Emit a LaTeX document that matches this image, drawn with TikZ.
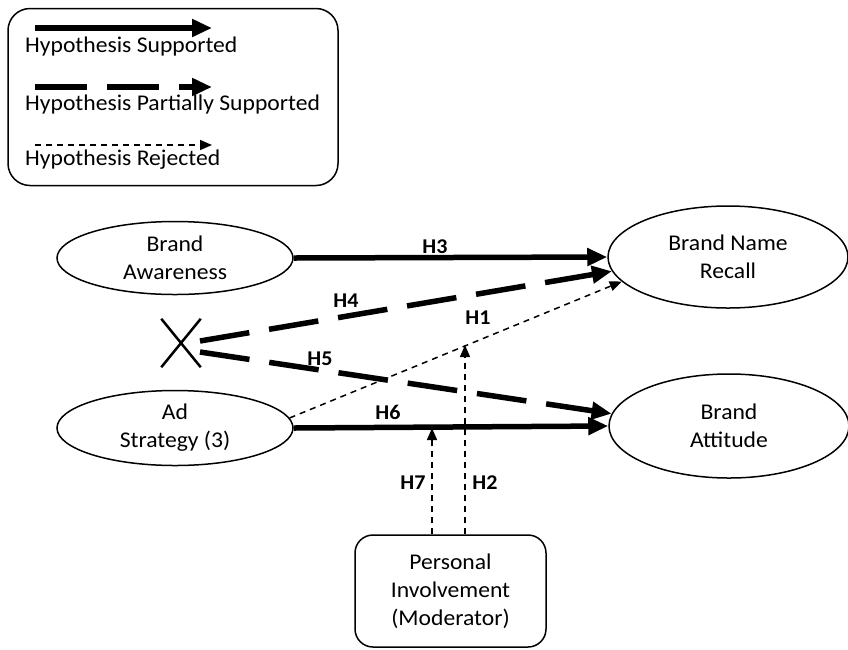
\documentclass[tikz,border=0pt]{standalone}
\usepackage{fontspec}
\setmainfont[FakeStretch=1.05]{Carlito}
\usetikzlibrary{arrows.meta,shapes.geometric,shapes.misc,calc}
\begin{document}
\begin{tikzpicture}[x=1pt,y=-1pt,
  every node/.style={font=\fontsize{22.5}{28}\selectfont},
  oval/.style={ellipse,draw,line width=1.5pt,inner sep=0pt,align=center},
  rbox/.style={rectangle,rounded corners=18pt,draw,line width=1.5pt,inner sep=0pt,align=center},
  supp/.style={line width=5.5pt,-{Triangle[length=20pt,width=17pt]}},
  part/.style={line width=5.5pt,dash pattern=on 50pt off 20pt,-{Triangle[length=20pt,width=17pt]}},
  rej/.style={line width=1.5pt,dash pattern=on 6pt off 5pt,-{Triangle[length=12pt,width=10pt]}},
  lab/.style={font=\fontsize{21}{24}\selectfont\bfseries,inner sep=1pt},
  legtext/.style={anchor=west,inner sep=0pt}
]
\useasboundingbox (0,0) rectangle (848,649);
% legend
\node[rbox,rounded corners=22pt,minimum width=330pt,minimum height=177pt] (leg) at (173,97) {};
\coordinate (l1a) at (35,28);  \coordinate (l1b) at (212,28);
\coordinate (l2a) at (35,87);  \coordinate (l2b) at (212,87);
\coordinate (l3a) at (35,145); \coordinate (l3b) at (212,145);
\draw[supp] (l1a) -- (l1b);
\draw[part,dash pattern=on 52pt off 20pt] (l2a) -- (l2b);
\draw[rej] (l3a) -- (l3b);
\node[legtext] (t1) at (25,46) {Hypothesis Supported};
\node[legtext] (t2) at (25,104) {Hypothesis Partially Supported};
\node[legtext] (t3) at (25,160) {Hypothesis Rejected};
% main nodes
\node[oval,minimum width=236pt,minimum height=73pt] (ba) at (175,258) {Brand\\Awareness};
\node[oval,minimum width=236pt,minimum height=75pt] (as) at (175,428) {Ad\\Strategy (3)};
\node[oval,minimum width=240pt,minimum height=102pt] (bnr) at (728,257) {Brand Name\\Recall};
\node[oval,minimum width=240pt,minimum height=104pt] (bat) at (729,426) {Brand\\Attitude};
\node[rbox,minimum width=191pt,minimum height=112pt] (pim) at (450.5,591) {Personal\\Involvement\\(Moderator)};
\node[cross out,draw,line width=2.5pt,minimum width=37pt,minimum height=46pt,inner sep=0pt] (x) at (181,343) {};
\coordinate (x4) at (200,341);
\coordinate (x5) at (200,352);
\coordinate (h2end) at (465,345);
\coordinate (h7end) at (432,428);
% connectors
\draw[supp] (ba.east) -- (bnr.west);
\draw[supp] (as.east) -- (bat.west);
\draw[part] (x4) -- (bnr.187);
\draw[part] (x5) -- (bat.174);
\draw[rej] (as.5) -- (bnr.193);
\draw[rej] (pim.north -| h7end) -- (h7end);
\draw[rej] (pim.north -| h2end) -- (h2end);
% labels
\node[lab] (h3) at (435,247) {H3};
\node[lab] (h4) at (346,301) {H4};
\node[lab] (h1) at (478,318) {H1};
\node[lab] (h5) at (320,359) {H5};
\node[lab] (h6) at (388,412) {H6};
\node[lab] (h7) at (413,483) {H7};
\node[lab] (h2) at (485,483) {H2};
\end{tikzpicture}
\end{document}
